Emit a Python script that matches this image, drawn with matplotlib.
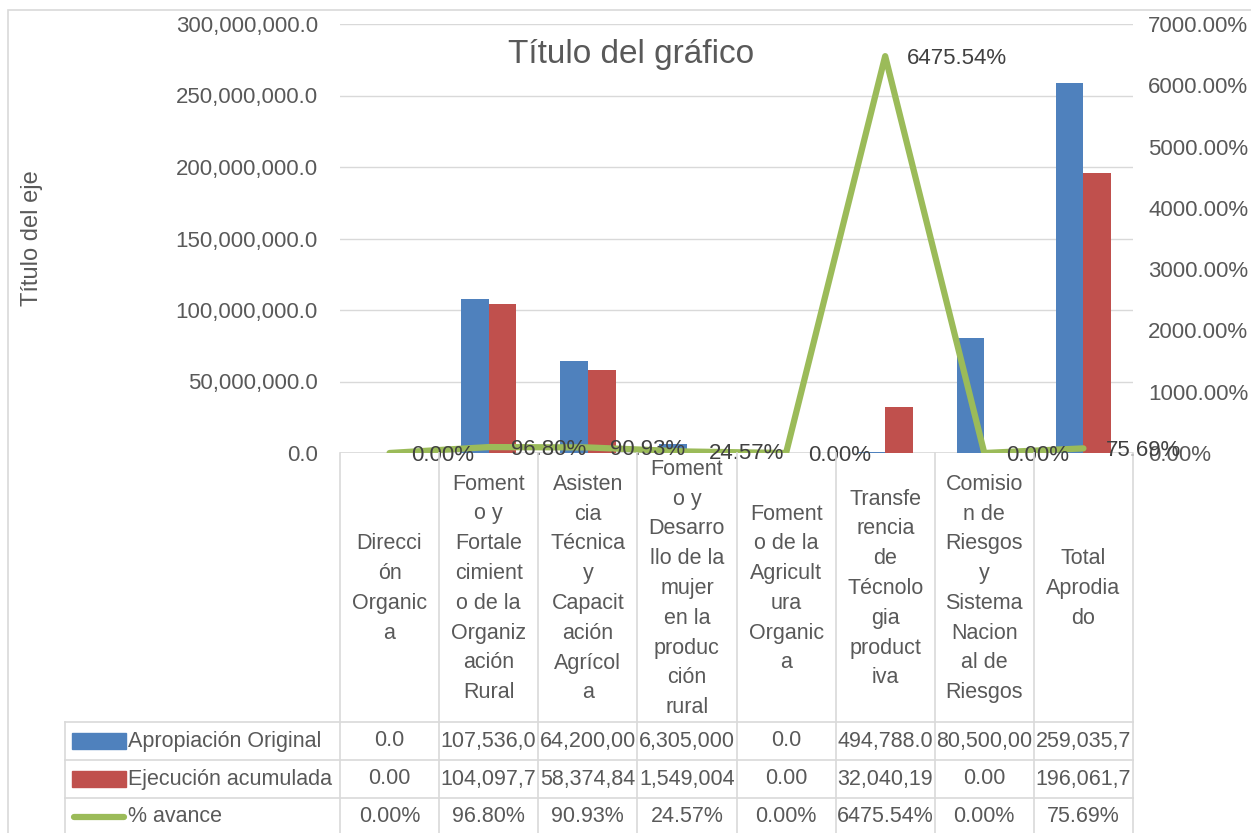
import matplotlib.pyplot as plt
import matplotlib.transforms as mtransforms
from matplotlib.patches import Rectangle
from matplotlib.lines import Line2D
from matplotlib.ticker import FuncFormatter, MultipleLocator

categories = ["Direcci\nón\nOrganic\na",
              "Foment\no y\nFortale\ncimient\no de la\nOrganiz\nación\nRural",
              "Asisten\ncia\nTécnica\ny\nCapacit\nación\nAgrícol\na",
              "Foment\no y\nDesarro\nllo de la\nmujer\nen la\nproduc\nción\nrural",
              "Foment\no de la\nAgricult\nura\nOrganic\na",
              "Transfe\nrencia\nde\nTécnolo\ngia\nproduct\niva",
              "Comisio\nn de\nRiesgos\ny\nSistema\nNacion\nal de\nRiesgos",
              "Total\nAprodia\ndo"]
apropiacion = [0.0, 107536000, 64200000, 6305000, 0.0, 494788.0, 80500000, 259035788]
ejecucion = [0.0, 104097750, 58374845, 1549004, 0.0, 32040195, 0.0, 196061794]
avance = [0.0, 0.9680, 0.9093, 0.2457, 0.0, 64.7554, 0.0, 0.7569]
series_names = ["Apropiación Original", "Ejecución acumulada", "% avance"]

blue = "#4F81BD"
red = "#C0504D"
green = "#9BBB59"
grid_c = "#D9D9D9"
txt_c = "#595959"

plt.rcParams['font.family'] = ['Liberation Sans', 'DejaVu Sans']
fs = 15

W, H = 1251, 833
fig = plt.figure(figsize=(W / 100, H / 100), dpi=100)

def fx(px):
    return px / W

def fy(py):
    return 1 - py / H

# chart area border
fig.patches.append(Rectangle((fx(8), fy(900)), fx(1300 - 8), (900 - 10) / H,
                             transform=fig.transFigure, fill=False,
                             edgecolor=grid_c, lw=1.2))

x0, x1, ytop, ybot = 340, 1133, 24, 453
ax = fig.add_axes([fx(x0), fy(ybot), fx(x1 - x0), (ybot - ytop) / H])
ax2 = ax.twinx()

n = len(categories)
xs = list(range(n))
bw = 0.28
ax.bar([x - bw / 2 for x in xs], apropiacion, width=bw, color=blue, zorder=3)
ax.bar([x + bw / 2 for x in xs], ejecucion, width=bw, color=red, zorder=3)
ax.set_xlim(-0.5, n - 0.5)
ax.set_ylim(0, 300000000)
ax.yaxis.set_major_locator(MultipleLocator(50000000))
ax.yaxis.set_major_formatter(FuncFormatter(lambda v, p: f"{v:,.1f}"))
ax.grid(axis='y', color=grid_c, lw=1, zorder=0)
ax.set_xticks([])
for s in ax.spines.values():
    s.set_visible(False)
for s in ax2.spines.values():
    s.set_visible(False)
ax.axhline(0, color=grid_c, lw=1.2, zorder=2)
ax.tick_params(axis='y', length=0, labelsize=fs + 1, labelcolor=txt_c, pad=16)

ax2.plot(xs, avance, color=green, lw=4.5, solid_capstyle='round', zorder=5)
ax2.set_ylim(0, 70)
ax2.yaxis.set_major_locator(MultipleLocator(10))
ax2.yaxis.set_major_formatter(FuncFormatter(lambda v, p: f"{v * 100:.2f}%"))
ax2.tick_params(axis='y', length=0, labelsize=fs + 1, labelcolor=txt_c, pad=11)
for x, v in zip(xs, avance):
    ax2.annotate(f"{v * 100:.2f}%", (x, v), xytext=(22, -2), textcoords='offset pixels',
                 ha='left', va='center', fontsize=fs + 1, color="#404040", zorder=6)

fig.text(fx(631), fy(55), "Título del gráfico", ha='center', va='center',
         fontsize=24, color=txt_c)
fig.text(fx(32), fy(238), "Título del eje", ha='center', va='center',
         rotation=90, fontsize=fs + 2, color=txt_c)

# data table
tr = mtransforms.blended_transform_factory(ax.transData, fig.transFigure)
row_tops = [722, 760, 798]
row_h = 38
bottom = 900
for k in range(n + 1):
    fig.add_artist(Line2D([k - 0.5, k - 0.5], [fy(ybot), fy(bottom)], transform=tr,
                          color=grid_c, lw=1.2))
fig.add_artist(Line2D([fx(65), fx(65)], [fy(722), fy(bottom)], transform=fig.transFigure,
                      color=grid_c, lw=1.2))
for yt in row_tops:
    fig.add_artist(Line2D([fx(65), fx(x1)], [fy(yt), fy(yt)], transform=fig.transFigure,
                          color=grid_c, lw=1.2))

for x, c in zip(xs, categories):
    fig.text(x, fy((ybot + 722) / 2 + 1), c, transform=tr, ha='center', va='center',
             fontsize=fs + 0.5, color=txt_c, linespacing=1.55)

rows = [[f"{v:,.1f}"[:9] for v in apropiacion],
        [f"{v:,.2f}"[:9] for v in ejecucion],
        [f"{v * 100:.2f}%" for v in avance]]
for r, (yt, vals) in enumerate(zip(row_tops, rows)):
    yc = fy(yt + row_h / 2)
    for x, s in zip(xs, vals):
        fig.text(x, yc, s, transform=tr, ha='center', va='center', fontsize=fs + 0.5, color=txt_c)
    fig.text(fx(128), yc, series_names[r], ha='left', va='center', fontsize=fs + 0.5, color=txt_c)

for r, col in enumerate([blue, red]):
    yc = row_tops[r] + row_h / 2
    fig.patches.append(Rectangle((fx(72), fy(yc + 8)), fx(54), 16 / H,
                                 transform=fig.transFigure, color=col))
fig.add_artist(Line2D([fx(74), fx(124)], [fy(817), fy(817)], transform=fig.transFigure,
                      color=green, lw=4.5, solid_capstyle='round'))

fig.savefig("out.png", dpi=100)
